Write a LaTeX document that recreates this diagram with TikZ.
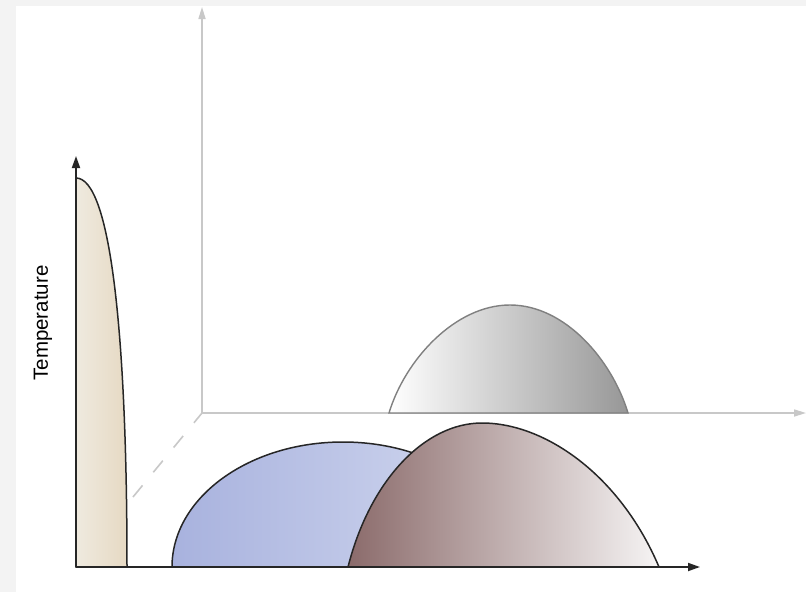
\documentclass[tikz,border=0pt]{standalone}
\usepackage{fontspec}
\setmainfont{Liberation Sans}
\usetikzlibrary{arrows.meta}

\definecolor{framegray}{HTML}{F3F3F3}
\definecolor{axisgray}{HTML}{C8C8C8}
\definecolor{tanL}{HTML}{EFEADF}
\definecolor{tanR}{HTML}{E6D9C3}
\definecolor{blueL}{HTML}{A8B2DE}
\definecolor{blueR}{HTML}{D4DAF0}
\definecolor{brownL}{HTML}{8B6B6B}
\definecolor{brownR}{HTML}{F6F4F4}
\definecolor{grayR}{HTML}{979797}

\begin{document}
\begin{tikzpicture}[x=1pt,y=-1pt,
axis/.style={draw=black!85, line width=1.8pt, -{Triangle[length=12pt,width=8pt]}},
backaxis/.style={draw=axisgray, line width=1.6pt, -{Triangle[length=12pt,width=7pt]}},
curve/.style={draw=black!85, line width=1.5pt},
]
% frame
\fill[framegray] (0,0) rectangle (806,592);
\fill[white] (16,6) rectangle (806,592);
\useasboundingbox (0,0) rectangle (806,592);

\coordinate (O) at (76,567);
\coordinate (B) at (202,413);
\coordinate (Ox) at (700,567);
\coordinate (Oy) at (76,156);
\coordinate (Bx) at (806,413);
\coordinate (By) at (202,7);
\coordinate (D) at (133,497);

% back axes
\draw[backaxis] (B) -- (By);
\draw[backaxis] (B) -- (Bx);
\draw[draw=axisgray, line width=1.6pt, dash pattern=on 15pt off 17pt] (D) -- (B);

% curves
\path[draw=black!50, line width=1.4pt, left color=white, right color=grayR]
  (389,413) .. controls (405,360) and (455,305) .. (510,305)
  .. controls (565,305) and (612,360) .. (628,413) -- cycle;
\path[curve, left color=tanL, right color=tanR]
  (O) -- (76,178) .. controls (110,178) and (127,330) .. (127,567) -- cycle;
\path[curve, left color=blueL, right color=blueR]
  (172,567) .. controls (172,498) and (248.5,442) .. (343,442)
  .. controls (437.5,442) and (514,498) .. (514,567) -- cycle;
\path[curve, left color=brownL, right color=brownR]
  (348,567) .. controls (370,480) and (425,423) .. (482,423)
  .. controls (545,423) and (620,475) .. (659,567) -- cycle;

% front axes
\draw[axis] (O) -- (Oy);
\draw[axis] (O) -- (Ox);

\node[rotate=90, font=\fontsize{20.5}{24}\selectfont, inner sep=0pt] (temp) at (43,323) {Temperature};
\end{tikzpicture}
\end{document}
